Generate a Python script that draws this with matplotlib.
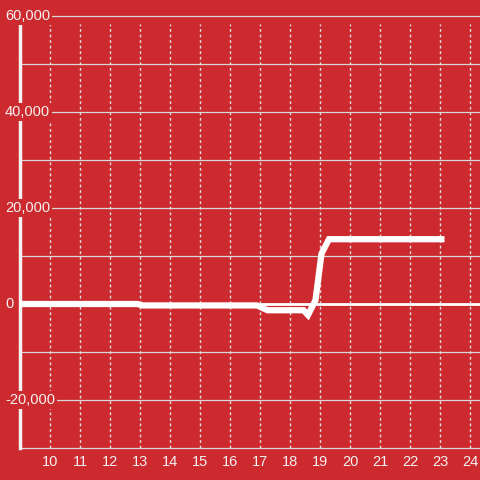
import matplotlib.pyplot as plt
from matplotlib.transforms import blended_transform_factory

# data
hours = [9, 12.9, 13.1, 16.9, 17.25, 18.45, 18.6, 18.85, 19.05, 19.3, 23.15]
values = [0, 0, -300, -300, -1300, -1300, -2300, 800, 10500, 13500, 13500]
x_ticks = list(range(10, 25))
y_ticks = [-20000, 0, 20000, 40000, 60000]
y_grid = list(range(-30000, 60001, 10000))

bg = '#cd2a2f'
plt.rcParams['font.family'] = ['Liberation Sans', 'DejaVu Sans']

fig = plt.figure(figsize=(4.8, 4.8), dpi=100, facecolor=bg)
ax = fig.add_axes([20 / 480, 32 / 480, 460 / 480, 432 / 480], facecolor=bg)
ax.set_xlim(9, 24.333)
ax.set_ylim(-30000, 60000)

for s in ax.spines.values():
    s.set_visible(False)

# horizontal grid
for v in y_grid:
    ax.axhline(v, color='#d8d8d8', lw=0.9, zorder=1, clip_on=False)
# zero line
ax.axhline(0, color='white', lw=2, zorder=2)
# vertical dotted grid
top_frac = (58333 + 30000) / 90000
for h in x_ticks:
    ax.axvline(h, ymax=top_frac, color='#e0e0e0', lw=1, ls=(0, (2, 2)), zorder=1)

# y axis line
ax.plot([9, 9], [-30000, 58333], color='#f2f2f2', lw=2.5, zorder=3, clip_on=False)

# data line
ax.plot(hours, values, color='white', lw=4.5, zorder=4, solid_joinstyle='miter',
        solid_capstyle='butt')

ax.set_xticks([])
ax.set_yticks([])
for h in x_ticks:
    ax.text(h, -31500, str(h), ha='center', va='top', color='#f2f2f2', fontsize=10.5)

trans = blended_transform_factory(fig.transFigure, ax.transData)
for v in y_ticks:
    ax.text(5 / 480, v, f'{v:,}', transform=trans, ha='left', va='center',
            color='#f2f2f2', fontsize=10.5, zorder=5,
            bbox=dict(facecolor=bg, edgecolor='none', pad=1.5))

fig.savefig('out.png', dpi=100, facecolor=bg)
